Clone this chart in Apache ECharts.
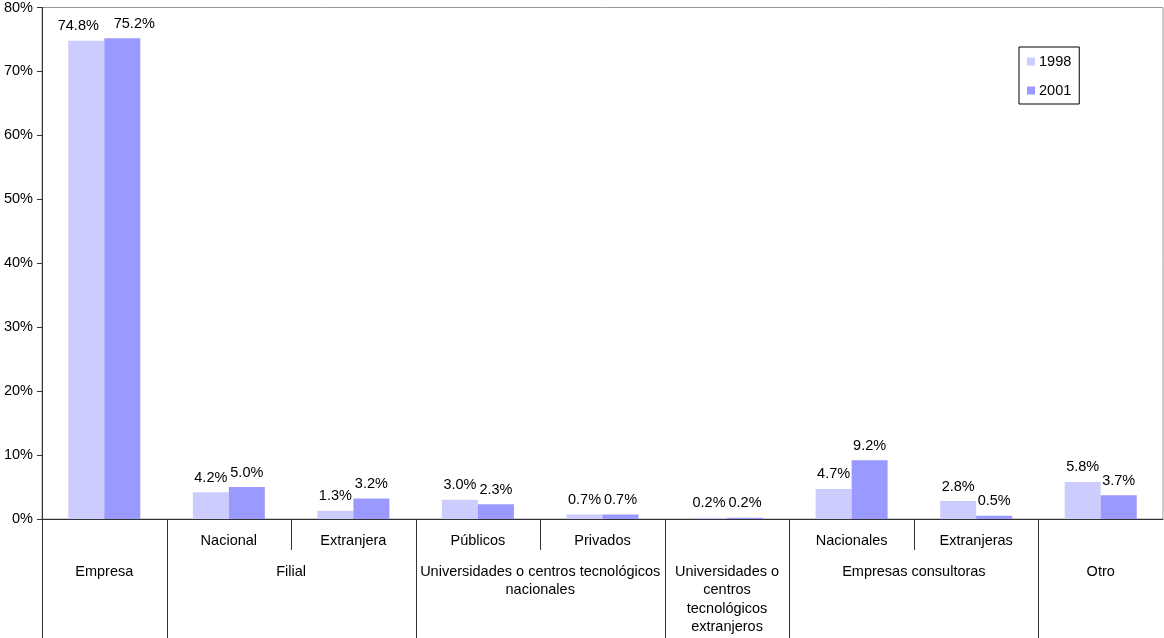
<!DOCTYPE html>
<html>
<head>
<meta charset="utf-8">
<script src="https://cdn.jsdelivr.net/npm/echarts@6/dist/echarts.min.js"></script>
<style>
  html, body { margin: 0; padding: 0; background: #fff; }
  #chart { width: 1164px; height: 638px; }
</style>
</head>
<body>
<div id="chart"></div>
<script>
// Sub-category labels, one per bar pair (empty where the group has no sub-level)
const subLabels = ['', 'Nacional', 'Extranjera', 'Públicos', 'Privados', '', 'Nacionales', 'Extranjeras', ''];
// Top-level groups and the slot range each one covers
const groupNames = [
  'Empresa',
  'Filial',
  'Universidades o centros tecnológicos\nnacionales',
  'Universidades o\ncentros\ntecnológicos\nextranjeros',
  'Empresas consultoras',
  'Otro'
];
const groupStart = [0, 1, 3, 5, 6, 8];
const groupEnd   = [0, 2, 4, 5, 7, 8];

const seriesNames = ['1998', '2001'];
const values1998 = [74.8, 4.2, 1.3, 3.0, 0.7, 0.2, 4.7, 2.8, 5.8];
const values2001 = [75.2, 5.0, 3.2, 2.3, 0.7, 0.2, 9.2, 0.5, 3.7];

const yTicks = [0, 10, 20, 30, 40, 50, 60, 70, 80];

const FONT = '"Liberation Sans", Arial, sans-serif';
const FS = 14.5;
const AXIS_COLOR = '#333';

const slotKeys = subLabels.map((s, i) => {
  const g = groupStart.findIndex((st, k) => i >= st && i <= groupEnd[k]);
  return groupNames[g].replace(/\n/g, ' ') + (s ? ' – ' + s : '');
});

// Divider lines below the axis: full height at group boundaries, short inside groups
const dividerData = slotKeys.map((_, i) => [i, groupStart.indexOf(i) >= 0 ? 1 : 0]);

const chart = echarts.init(document.getElementById('chart'));

const labelBase = {
  show: true,
  position: 'top',
  distance: 7,
  color: '#000',
  fontFamily: FONT,
  fontSize: FS,
  formatter: p => p.value.toFixed(1) + '%'
};

chart.setOption({
  animation: false,
  backgroundColor: '#fff',
  textStyle: { fontFamily: FONT },
  grid: {
    left: 42, right: 1, top: 6, bottom: 119,
    show: true, borderColor: '#999', borderWidth: 1, backgroundColor: 'transparent'
  },
  legend: {
    data: seriesNames,
    orient: 'vertical',
    left: 1019, top: 47,
    padding: [7, 8, 6, 8],
    itemGap: 14,
    itemWidth: 8, itemHeight: 8,
    icon: 'rect',
    borderColor: '#000', borderWidth: 1,
    textStyle: { color: '#000', fontSize: FS, fontFamily: FONT, padding: [0, 0, 0, -1] }
  },
  xAxis: {
    type: 'category',
    data: slotKeys,
    axisLine: { show: true, lineStyle: { color: AXIS_COLOR, width: 1 } },
    axisTick: { show: false },
    axisLabel: { show: false },
    splitLine: { show: false }
  },
  yAxis: {
    type: 'value',
    min: yTicks[0], max: yTicks[yTicks.length - 1], interval: yTicks[1] - yTicks[0],
    axisLine: { show: true, lineStyle: { color: AXIS_COLOR, width: 1 } },
    axisTick: { show: true, length: 5, lineStyle: { color: AXIS_COLOR } },
    axisLabel: { color: '#000', fontSize: FS, fontFamily: FONT, margin: 9, formatter: '{value}%' },
    splitLine: { show: false }
  },
  series: [
    {
      name: seriesNames[0], type: 'bar', data: values1998,
      barWidth: 36, barGap: '0%',
      itemStyle: { color: '#CCCCFF' },
      label: labelBase,
      labelLayout: p => (p.dataIndex === 0 ? { dx: -8 } : {})
    },
    {
      name: seriesNames[1], type: 'bar', data: values2001,
      barWidth: 36, barGap: '0%',
      itemStyle: { color: '#9999FF' },
      label: labelBase,
      labelLayout: p => (p.dataIndex === 0 ? { dx: 12 } : {})
    },
    {
      // divider lines under the category axis
      type: 'custom', silent: true, clip: false, z: 5,
      data: dividerData,
      encode: { x: 0, y: 1 },
      renderItem: (params, api) => {
        const idx = api.value(0);
        const full = api.value(1) === 1;
        const c = api.coord([idx, 0]);
        const w = api.size([1, 0])[0];
        const x = Math.round(c[0] - w / 2) + 0.5;
        const y1 = full ? api.getHeight() : c[1] + 31;
        return {
          type: 'line',
          shape: { x1: x, y1: c[1], x2: x, y2: y1 },
          style: { stroke: AXIS_COLOR, lineWidth: 1 }
        };
      }
    },
    {
      // sub-category labels
      type: 'custom', silent: true, clip: false, z: 5,
      data: subLabels.map((_, i) => [i, 0]),
      encode: { x: 0, y: 1 },
      renderItem: (params, api) => {
        const c = api.coord([api.value(0), 0]);
        return {
          type: 'text',
          style: {
            text: subLabels[params.dataIndex],
            x: c[0], y: c[1] + 22,
            align: 'center', verticalAlign: 'middle',
            textAlign: 'center', textVerticalAlign: 'middle',
            fill: '#000', fontSize: FS, fontFamily: FONT
          }
        };
      }
    },
    {
      // group labels
      type: 'custom', silent: true, clip: false, z: 5,
      data: groupNames.map((_, i) => [groupStart[i], groupEnd[i], 0]),
      encode: { x: [0, 1], y: 2 },
      renderItem: (params, api) => {
        const a = api.coord([api.value(0), 0]);
        const b = api.coord([api.value(1), 0]);
        return {
          type: 'text',
          style: {
            text: groupNames[params.dataIndex],
            x: (a[0] + b[0]) / 2, y: a[1] + 44,
            align: 'center', verticalAlign: 'top',
            textAlign: 'center', textVerticalAlign: 'top',
            lineHeight: 18.3,
            fill: '#000', fontSize: FS, fontFamily: FONT
          }
        };
      }
    }
  ]
});
</script>
</body>
</html>
